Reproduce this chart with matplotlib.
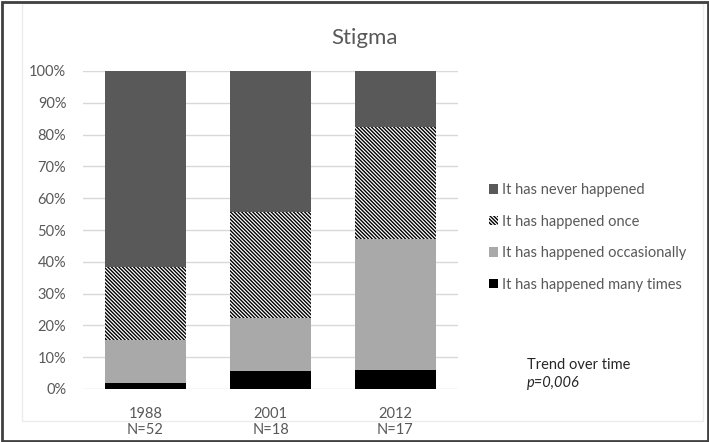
import matplotlib
matplotlib.use("Agg")
import matplotlib.pyplot as plt
from matplotlib.patches import Rectangle
import numpy as np

plt.rcParams["font.family"] = ["Lato", "DejaVu Sans"]
plt.rcParams["hatch.linewidth"] = 1.0

# ---------------------------------------------------------------------------
# Данные (проценты по годам)
# ---------------------------------------------------------------------------
years = ["1988", "2001", "2012"]
sizes = ["N=52", "N=18", "N=17"]
many_times = [1.9, 5.6, 5.9]
occasionally = [13.5, 16.7, 41.2]
once = [23.1, 33.3, 35.3]
never = [61.5, 44.4, 17.6]

series = [
    ("It has happened many times", many_times, "black", None),
    ("It has happened occasionally", occasionally, "#a9a9a9", None),
    ("It has happened once", once, "white", "\\" * 9),
    ("It has never happened", never, "#595959", None),
]

text_color = "#595959"

fig = plt.figure(figsize=(7.09, 4.42), dpi=100)
ax = fig.add_axes([83 / 709, 1 - 389 / 442, 375 / 709, 318 / 442])

x = np.arange(len(years))
bottom = np.zeros(len(years))
handles = []
for label, vals, color, hatch in series:
    bars = ax.bar(
        x, vals, bottom=bottom, width=0.65, color=color, hatch=hatch,
        edgecolor="black" if hatch else color, linewidth=0, label=label,
        zorder=3,
    )
    handles.append(bars)
    bottom += np.array(vals)

ax.set_xlim(-0.5, 2.5)
ax.set_ylim(0, 100)
ax.set_yticks(range(0, 101, 10))
ax.set_yticklabels([f"{v}%" for v in range(0, 101, 10)])
ax.set_xticks(x)
ax.set_xticklabels([f"{y}\n{n}" for y, n in zip(years, sizes)], linespacing=1.2)
ax.tick_params(axis="both", length=0, labelsize=10.5, colors=text_color)
ax.tick_params(axis="x", pad=13)
ax.tick_params(axis="y", pad=12)
ax.yaxis.grid(True, color="#d9d9d9", linewidth=1, zorder=0)
ax.set_axisbelow(True)
for s in ax.spines.values():
    s.set_visible(False)

fig.text(365 / 709, 1 - 38 / 442, "Stigma", ha="center", va="center",
         fontsize=16, color=text_color)

leg = fig.legend(
    handles[::-1], [s[0] for s in series][::-1],
    loc="upper left", bbox_to_anchor=(476 / 709, 1 - 170 / 442),
    frameon=False, fontsize=10.5, labelcolor=text_color,
    handlelength=0.6, handleheight=0.6, handletextpad=0.3,
    labelspacing=1.2,
)

fig.text(527 / 709, 1 - 365 / 442, "Trend over time", ha="left", va="center",
         fontsize=10.5, color="#262626")
fig.text(527 / 709, 1 - 383 / 442, "p=0,006", ha="left", va="center",
         fontsize=10.5, color="#262626", style="italic")

# рамки
fig.patches.append(Rectangle((22 / 709, 1 - 421 / 442), 681 / 709, 418 / 442,
                             transform=fig.transFigure, fill=False,
                             edgecolor="#ececec", linewidth=1))
fig.patches.append(Rectangle((1.5 / 709, 1.5 / 442), 706 / 709, 439 / 442,
                             transform=fig.transFigure, fill=False,
                             edgecolor="#404040", linewidth=2))

fig.savefig("out.png", dpi=100)
